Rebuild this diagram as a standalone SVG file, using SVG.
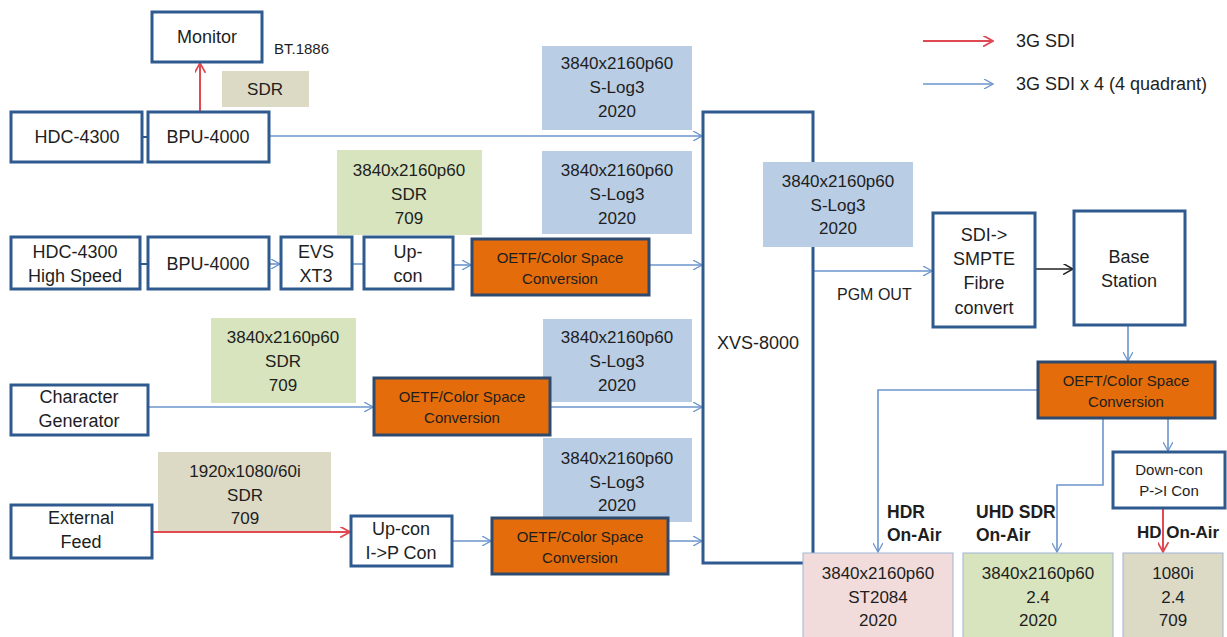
<svg xmlns="http://www.w3.org/2000/svg" width="1227" height="637" viewBox="0 0 1227 637">
<style>
text{font-family:"Liberation Sans",Arial,sans-serif;fill:#1e1e1e;text-anchor:middle}
.n{fill:#fff;stroke:#2f5a8f;stroke-width:3}
.o{fill:#e46c0a;stroke:#2e4a6e;stroke-width:3}
.b{fill:#b9cde5}
.g{fill:#d7e4bd}
.t{fill:#dcd9c5}
.pk{fill:#f2dcdb;stroke:#9db3d6;stroke-width:1}
.gk{fill:#d7e4bd;stroke:#9db3d6;stroke-width:1}
.tk{fill:#dcd9c5;stroke:#9db3d6;stroke-width:1}
.f18{font-size:18px}
.f17{font-size:17px}
.f15{font-size:15px}
.bold{font-weight:bold;font-size:17.5px;text-anchor:start}
.cb{fill:none;stroke:#6b95cc;stroke-width:1.6}
.cr{fill:none;stroke:#e04852;stroke-width:2}
.ck{fill:none;stroke:#222;stroke-width:1.6}
.cd{fill:none;stroke:#2f5a8f;stroke-width:2}
</style>
<defs>
<marker id="ab" viewBox="0 0 10 10" refX="9" refY="5" markerWidth="10" markerHeight="10" markerUnits="userSpaceOnUse" orient="auto"><path d="M0,0 L9,5 L0,10" fill="none" stroke="#6b95cc" stroke-width="1.3"/></marker>
<marker id="ar" viewBox="0 0 10 10" refX="9" refY="5" markerWidth="11" markerHeight="11" markerUnits="userSpaceOnUse" orient="auto"><path d="M0,0 L9,5 L0,10" fill="none" stroke="#e04852" stroke-width="1.6"/></marker>
<marker id="ak" viewBox="0 0 10 10" refX="9" refY="5" markerWidth="11" markerHeight="11" markerUnits="userSpaceOnUse" orient="auto"><path d="M0,0 L9,5 L0,10" fill="none" stroke="#222" stroke-width="1.4"/></marker>
</defs>

<!-- info boxes (backgrounds) -->
<g id="sdr-label"><rect class="t" x="222" y="71" width="87" height="36"/><text class="f17" x="265" y="95">SDR</text></g>
<g id="fmt1"><rect class="b" x="542" y="46" width="150" height="84"/><text class="f17" x="617" y="69">3840x2160p60</text><text class="f17" x="617" y="93">S-Log3</text><text class="f17" x="617" y="117">2020</text></g>
<g id="fmt2g"><rect class="g" x="337" y="150" width="145" height="85"/><text class="f17" x="409" y="176">3840x2160p60</text><text class="f17" x="409" y="200">SDR</text><text class="f17" x="409" y="224">709</text></g>
<g id="fmt2"><rect class="b" x="542" y="151" width="150" height="83"/><text class="f17" x="617" y="176">3840x2160p60</text><text class="f17" x="617" y="200">S-Log3</text><text class="f17" x="617" y="224">2020</text></g>
<g id="fmt3g"><rect class="g" x="211" y="318" width="145" height="85"/><text class="f17" x="283" y="343">3840x2160p60</text><text class="f17" x="283" y="367">SDR</text><text class="f17" x="283" y="391">709</text></g>
<g id="fmt3"><rect class="b" x="543" y="319" width="149" height="83"/><text class="f17" x="617" y="343">3840x2160p60</text><text class="f17" x="617" y="367">S-Log3</text><text class="f17" x="617" y="391">2020</text></g>
<g id="fmt4t"><rect class="t" x="158" y="452" width="173" height="80"/><text class="f17" x="245" y="477">1920x1080/60i</text><text class="f17" x="245" y="501">SDR</text><text class="f17" x="245" y="524">709</text></g>
<g id="fmt4"><rect class="b" x="543" y="438" width="149" height="84"/><text class="f17" x="617" y="464">3840x2160p60</text><text class="f17" x="617" y="488">S-Log3</text><text class="f17" x="617" y="511">2020</text></g>

<!-- connectors -->
<g id="connectors">
<line class="cd" x1="142" y1="137" x2="148" y2="137"/>
<line class="cr" x1="200" y1="112" x2="200" y2="63" marker-end="url(#ar)"/>
<line class="cb" x1="269" y1="136" x2="702" y2="136" marker-end="url(#ab)"/>
<line class="cd" x1="140" y1="264" x2="148" y2="264"/>
<line class="cb" x1="269" y1="264" x2="280" y2="264" marker-end="url(#ab)"/>
<line class="cb" x1="352" y1="264" x2="364" y2="264"/>
<line class="cb" x1="453" y1="265" x2="471" y2="265" marker-end="url(#ab)"/>
<line class="cb" x1="649" y1="265" x2="702" y2="265" marker-end="url(#ab)"/>
<line class="cb" x1="148" y1="407" x2="373" y2="407" marker-end="url(#ab)"/>
<line class="cb" x1="550" y1="407" x2="702" y2="407" marker-end="url(#ab)"/>
<line class="cr" x1="152" y1="532" x2="350" y2="532" marker-end="url(#ar)"/>
<line class="cb" x1="452" y1="541" x2="491" y2="541" marker-end="url(#ab)"/>
<line class="cb" x1="668" y1="541" x2="702" y2="541" marker-end="url(#ab)"/>
<line class="cb" x1="813" y1="271" x2="932" y2="271" marker-end="url(#ab)"/>
<line class="ck" x1="1035" y1="269" x2="1073" y2="269" marker-end="url(#ak)"/>
<line class="cb" x1="1128" y1="325" x2="1128" y2="361" marker-end="url(#ab)"/>
<polyline class="cb" points="1038,390 878,390 878,552" marker-end="url(#ab)"/>
<polyline class="cb" points="1103,418 1103,485 1057,485 1057,552" marker-end="url(#ab)"/>
<line class="cb" x1="1168" y1="418" x2="1168" y2="451" marker-end="url(#ab)"/>
<line class="cr" x1="1163" y1="508" x2="1163" y2="552" marker-end="url(#ar)"/>
<line class="cr" x1="923" y1="41" x2="993" y2="41" marker-end="url(#ar)"/>
<line class="cb" x1="923" y1="84" x2="993" y2="84" marker-end="url(#ab)"/>
</g>

<!-- nodes -->
<g id="monitor"><rect class="n" x="152" y="12" width="110" height="50"/><text class="f18" x="207" y="43">Monitor</text></g>
<text x="274" y="54" style="font-size:15px;text-anchor:start">BT.1886</text>
<g id="hdc1"><rect class="n" x="11" y="112" width="131" height="50"/><text class="f18" x="77" y="143">HDC-4300</text></g>
<g id="bpu1"><rect class="n" x="148" y="112" width="121" height="50"/><text class="f18" x="208" y="143">BPU-4000</text></g>
<g id="hdc2"><rect class="n" x="11" y="237" width="129" height="52"/><text class="f18" x="75" y="258">HDC-4300</text><text class="f18" x="75" y="282">High Speed</text></g>
<g id="bpu2"><rect class="n" x="148" y="237" width="121" height="52"/><text class="f18" x="208" y="270">BPU-4000</text></g>
<g id="evs"><rect class="n" x="281" y="237" width="71" height="52"/><text class="f18" x="316" y="258">EVS</text><text class="f18" x="316" y="282">XT3</text></g>
<g id="upcon1"><rect class="n" x="364" y="237" width="89" height="52"/><text class="f18" x="408" y="258">Up-</text><text class="f18" x="408" y="282">con</text></g>
<g id="oetf1"><rect class="o" x="472" y="239" width="177" height="56"/><text class="f15" x="560" y="263">OETF/Color Space</text><text class="f15" x="560" y="284">Conversion</text></g>
<g id="chargen"><rect class="n" x="11" y="385" width="137" height="50"/><text class="f18" x="79" y="403">Character</text><text class="f18" x="79" y="427">Generator</text></g>
<g id="oetf2"><rect class="o" x="374" y="378" width="176" height="57"/><text class="f15" x="462" y="402">OETF/Color Space</text><text class="f15" x="462" y="423">Conversion</text></g>
<g id="extfeed"><rect class="n" x="11" y="505" width="141" height="53"/><text class="f18" x="81" y="524">External</text><text class="f18" x="81" y="548">Feed</text></g>
<g id="upcon2"><rect class="n" x="351" y="516" width="101" height="50"/><text class="f18" x="401" y="535">Up-con</text><text class="f18" x="401" y="559">I-&gt;P Con</text></g>
<g id="oetf3"><rect class="o" x="492" y="518" width="176" height="56"/><text class="f15" x="580" y="542">OETF/Color Space</text><text class="f15" x="580" y="563">Conversion</text></g>
<g id="xvs"><rect class="n" x="703" y="112" width="110" height="451"/><text class="f18" x="717" y="349" style="text-anchor:start">XVS-8000</text></g>
<g id="pgmfmt"><rect class="b" x="763" y="162" width="150" height="85"/><text class="f17" x="838" y="187">3840x2160p60</text><text class="f17" x="838" y="211">S-Log3</text><text class="f17" x="838" y="234">2020</text></g>
<text x="837" y="300" style="font-size:16px;text-anchor:start">PGM OUT</text>
<g id="sdi"><rect class="n" x="933" y="213" width="102" height="114"/><text class="f18" x="984" y="241">SDI-&gt;</text><text class="f18" x="984" y="265">SMPTE</text><text class="f18" x="984" y="289">Fibre</text><text class="f18" x="984" y="314">convert</text></g>
<g id="base"><rect class="n" x="1074" y="211" width="111" height="114"/><text class="f18" x="1129" y="263">Base</text><text class="f18" x="1129" y="287">Station</text></g>
<g id="oeft4"><rect class="o" x="1038" y="362" width="177" height="56"/><text class="f15" x="1126" y="386">OEFT/Color Space</text><text class="f15" x="1126" y="407">Conversion</text></g>
<g id="downcon"><rect class="n" x="1113" y="452" width="112" height="56"/><text class="f15" x="1169" y="475">Down-con</text><text class="f15" x="1169" y="496">P-&gt;I Con</text></g>
<g id="hdr"><rect class="pk" x="803" y="553" width="150" height="90"/><text class="f17" x="878" y="579">3840x2160p60</text><text class="f17" x="878" y="603">ST2084</text><text class="f17" x="878" y="626">2020</text></g>
<g id="uhd"><rect class="gk" x="963" y="553" width="150" height="90"/><text class="f17" x="1038" y="579">3840x2160p60</text><text class="f17" x="1038" y="603">2.4</text><text class="f17" x="1038" y="626">2020</text></g>
<g id="hd"><rect class="tk" x="1123" y="553" width="100" height="90"/><text class="f17" x="1173" y="579">1080i</text><text class="f17" x="1173" y="603">2.4</text><text class="f17" x="1173" y="626">709</text></g>
<text class="bold" x="887" y="518">HDR</text><text class="bold" x="887" y="541">On-Air</text>
<text class="bold" x="976" y="518">UHD SDR</text><text class="bold" x="976" y="541">On-Air</text>
<text class="bold" x="1137" y="538" style="font-size:17px">HD On-Air</text>
<g id="legend"><text x="1016" y="47" style="font-size:18px;text-anchor:start">3G SDI</text><text x="1016" y="90" style="font-size:18px;text-anchor:start">3G SDI x 4 (4 quadrant)</text></g>
</svg>
